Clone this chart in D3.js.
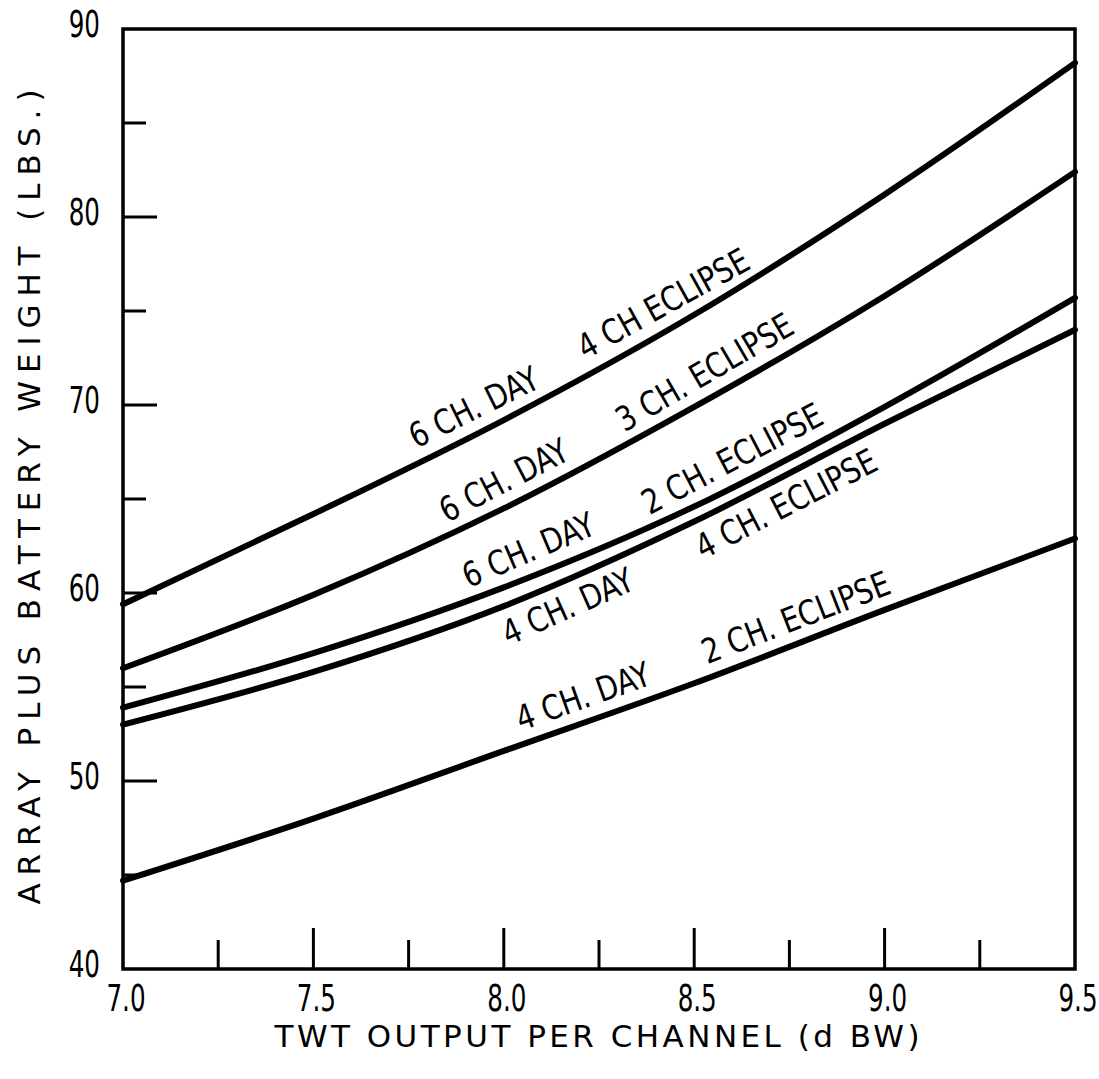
<!DOCTYPE html>
<html>
<head>
<meta charset="utf-8">
<script src="https://cdn.jsdelivr.net/npm/d3@7"></script>
<style>
  html, body { margin: 0; padding: 0; background: #fff; }
  svg { display: block; }
  text { font-family: "DejaVu Sans Condensed", "Liberation Sans Narrow", sans-serif; fill: #000; }
  .title { font-family: "DejaVu Sans", sans-serif; }
</style>
</head>
<body>
<svg id="chart" width="1099" height="1079"></svg>
<script>
// TWT output per channel (dBW)
const twtOutput = [7.0, 7.5, 8.0, 8.5, 9.0, 9.5];

// Array plus battery weight (lbs) for each day / eclipse loading
const day6Eclipse4 = [59.4, 64.2, 69.2, 74.8, 81.2, 88.2];
const day6Eclipse3 = [56.0, 59.9, 64.5, 69.9, 75.8, 82.4];
const day6Eclipse2 = [53.9, 56.8, 60.3, 64.6, 69.9, 75.7];
const day4Eclipse4 = [53.0, 55.8, 59.3, 63.8, 69.0, 74.0];
const day4Eclipse2 = [44.7, 48.0, 51.6, 55.2, 59.1, 62.9];

const seriesList = [day6Eclipse4, day6Eclipse3, day6Eclipse2, day4Eclipse4, day4Eclipse2];

// Axis ticks and labels
const xTickLabels = ["7.0", "7.5", "8.0", "8.5", "9.0", "9.5"];
const yTickLabels = ["40", "50", "60", "70", "80", "90"];
const xMinorTicks = [7.25, 7.5, 7.75, 8.0, 8.25, 8.5, 8.75, 9.0, 9.25];
const yMinorTicks = [45, 50, 55, 60, 65, 70, 75, 80, 85];

// Curve captions: which curve, where along x, and on which side
const captions = [
  { s: 0, x: 7.95, text: "6 CH. DAY", side: -1 },
  { s: 0, x: 8.45, text: "4 CH ECLIPSE", side: -1 },
  { s: 1, x: 8.03, text: "6 CH. DAY", side: -1 },
  { s: 1, x: 8.56, text: "3 CH. ECLIPSE", side: -1 },
  { s: 2, x: 8.09, text: "6 CH. DAY", side: -1 },
  { s: 2, x: 8.63, text: "2 CH. ECLIPSE", side: -1 },
  { s: 3, x: 8.14, text: "4 CH. DAY", side: 1 },
  { s: 3, x: 8.71, text: "4 CH. ECLIPSE", side: 1 },
  { s: 4, x: 8.23, text: "4 CH. DAY", side: -1 },
  { s: 4, x: 8.79, text: "2 CH. ECLIPSE", side: -1 }
];

const svg = d3.select("#chart");
const plotLeft = 123, plotRight = 1075, plotTop = 29, plotBottom = 969;

const x = d3.scaleLinear().domain([7.0, 9.5]).range([plotLeft, plotRight]);
const y = d3.scaleLinear().domain([40, 90]).range([plotBottom, plotTop]);

// Frame
svg.append("rect")
  .attr("x", plotLeft).attr("y", plotTop)
  .attr("width", plotRight - plotLeft).attr("height", plotBottom - plotTop)
  .attr("fill", "none").attr("stroke", "#000").attr("stroke-width", 3.5);

// Inward ticks on the left axis
svg.append("g").selectAll("line").data(yMinorTicks).join("line")
  .attr("x1", plotLeft).attr("x2", d => plotLeft + (d % 10 === 0 ? 34 : 23))
  .attr("y1", d => y(d)).attr("y2", d => y(d))
  .attr("stroke", "#000").attr("stroke-width", 3);

// Inward ticks on the bottom axis
svg.append("g").selectAll("line").data(xMinorTicks).join("line")
  .attr("x1", d => x(d)).attr("x2", d => x(d))
  .attr("y1", plotBottom)
  .attr("y2", d => plotBottom - (Math.abs((d * 2) % 1) < 1e-9 ? 41 : 29))
  .attr("stroke", "#000").attr("stroke-width", 3);

// Tick labels in a narrow face
svg.append("g").selectAll("text").data(yTickLabels).join("text")
  .attr("transform", d => `translate(100, ${y(+d) + 8}) scale(0.72, 1)`)
  .attr("text-anchor", "end")
  .attr("font-size", 38)
  .text(d => d);

svg.append("g").selectAll("text").data(xTickLabels).join("text")
  .attr("transform", d => `translate(${x(+d) + 3}, 1011) scale(0.72, 1)`)
  .attr("text-anchor", "middle")
  .attr("font-size", 38)
  .text(d => d);

// Axis titles
svg.append("text")
  .attr("class", "title")
  .attr("transform", `translate(40, 497) rotate(-90)`)
  .attr("text-anchor", "middle")
  .attr("font-size", 31)
  .attr("textLength", 815)
  .attr("lengthAdjust", "spacing")
  .text("ARRAY PLUS BATTERY WEIGHT  (LBS.)");

svg.append("text")
  .attr("class", "title")
  .attr("x", 597).attr("y", 1047)
  .attr("text-anchor", "middle")
  .attr("font-size", 31)
  .attr("textLength", 645)
  .attr("lengthAdjust", "spacing")
  .text("TWT OUTPUT PER CHANNEL  (d BW)");

// Curves
const line = d3.line()
  .x((d, i) => x(twtOutput[i]))
  .y(d => y(d))
  .curve(d3.curveMonotoneX);

svg.append("g").selectAll("path").data(seriesList).join("path")
  .attr("d", line)
  .attr("fill", "none")
  .attr("stroke", "#000")
  .attr("stroke-width", 6)
  .attr("stroke-linecap", "round");

// Captions laid along their curves
function valueAt(series, xv) {
  return d3.scaleLinear().domain(twtOutput).range(series)(xv);
}
captions.forEach(c => {
  const s = seriesList[c.s];
  const px = x(c.x), py = y(valueAt(s, c.x));
  const dx = x(c.x + 0.05) - x(c.x - 0.05);
  const dy = y(valueAt(s, c.x + 0.05)) - y(valueAt(s, c.x - 0.05));
  const ang = Math.atan2(dy, dx);
  const off = c.side < 0 ? -13 : 38;
  const nx = -Math.sin(ang), ny = Math.cos(ang);
  svg.append("text")
    .attr("transform", `translate(${px + nx * off}, ${py + ny * off}) rotate(${ang * 180 / Math.PI}) scale(0.92, 1)`)
    .attr("text-anchor", "middle")
    .attr("font-size", 34)
    .text(c.text);
});
</script>
</body>
</html>
